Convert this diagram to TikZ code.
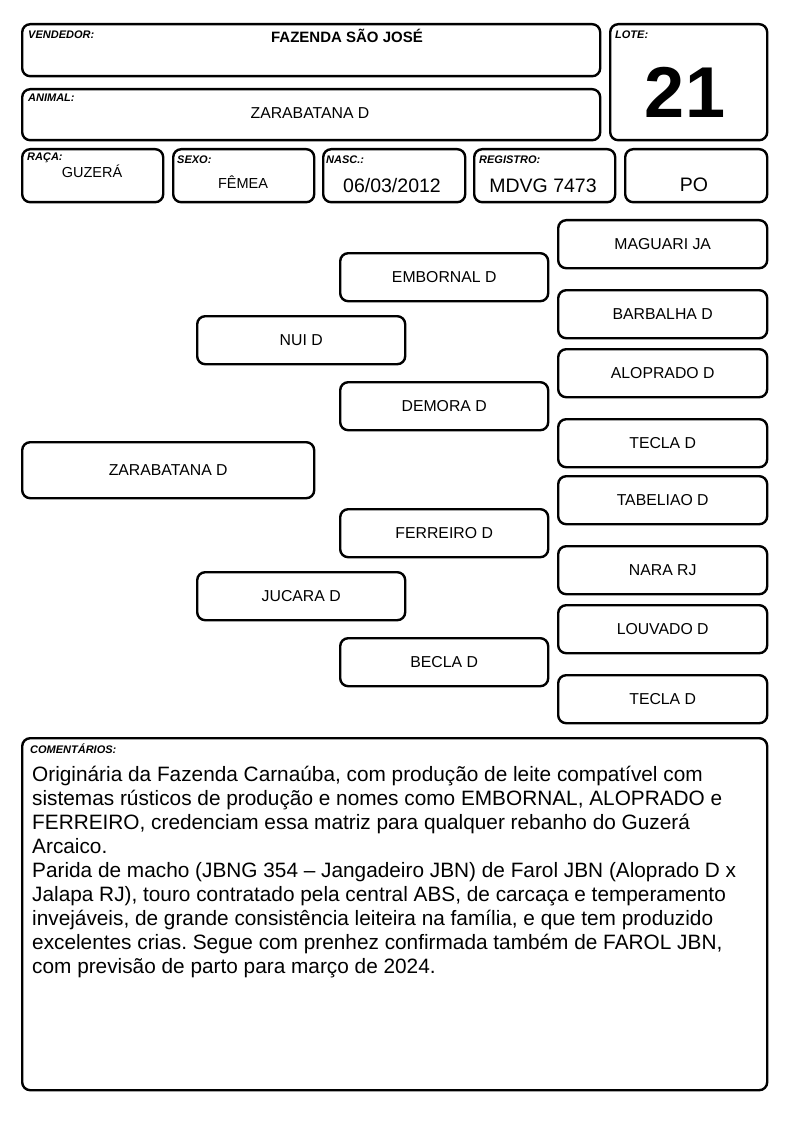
\documentclass[tikz,border=0pt]{standalone}
\usepackage{fontspec}
\setmainfont{Liberation Sans}
\frenchspacing
\begin{document}
\begin{tikzpicture}[x=1pt,y=-1pt,
  box/.style={draw, line width=2.4pt, rounded corners=8pt, inner sep=0pt, anchor=north west},
  lbl/.style={inner sep=0pt, anchor=base west, font=\fontsize{11}{12}\selectfont\bfseries\itshape},
  val/.style={inner sep=0pt, anchor=base},
  ped/.style={box, minimum width=208pt, minimum height=48pt, font=\fontsize{15.8}{18}\selectfont},
  body/.style={inner sep=0pt, anchor=base west, font=\fontsize{20.8}{24}\selectfont}]
\useasboundingbox (0,0) rectangle (794,1123);
% header boxes
\node[box, minimum width=578pt, minimum height=52pt] (vend) at (21,23) {};
\node[box, minimum width=578pt, minimum height=51pt] (anim) at (21,88) {};
\node[box, minimum width=157pt, minimum height=116pt] (lote) at (609,23) {};
\node[box, minimum width=141pt, minimum height=53pt] (raca) at (21,148) {};
\node[box, minimum width=141pt, minimum height=53pt] (sexo) at (172,148) {};
\node[box, minimum width=142pt, minimum height=53pt] (nasc) at (322,148) {};
\node[box, minimum width=141pt, minimum height=53pt] (reg) at (473,148) {};
\node[box, minimum width=142pt, minimum height=53pt] (po) at (624,148) {};
% labels
\node[lbl] (lvend) at (28,38.7) {VENDEDOR:};
\node[lbl] (lanim) at (28,102) {ANIMAL:};
\node[lbl] (llote) at (615,38.7) {LOTE:};
\node[lbl] (lraca) at (27,160.7) {RAÇA:};
\node[lbl] (lsexo) at (177,163.7) {SEXO:};
\node[lbl] (lnasc) at (326,163.7) {NASC.:};
\node[lbl] (lreg) at (479,163.7) {REGISTRO:};
% values
\node[val, font=\fontsize{15}{18}\selectfont\bfseries] (tvend) at (347,43) {FAZENDA SÃO JOSÉ};
\node[val, font=\fontsize{15.8}{18}\selectfont] (tanim) at (310,119) {ZARABATANA D};
\node[val, font=\fontsize{72}{80}\selectfont\bfseries] (tlote) at (685,118) {21};
\node[val, font=\fontsize{14.5}{17}\selectfont] (traca) at (92,178) {GUZERÁ};
\node[val, font=\fontsize{14.5}{17}\selectfont] (tsexo) at (243,189) {FÊMEA};
\node[val, font=\fontsize{19.5}{22}\selectfont] (tnasc) at (392,193) {06/03/2012};
\node[val, font=\fontsize{19.5}{22}\selectfont] (treg) at (543,193) {MDVG 7473};
\node[val, font=\fontsize{19.5}{22}\selectfont] (tpo) at (694,192) {PO};
% pedigree
\node[ped, minimum width=292pt, minimum height=56pt] (p1) at (21,441) {ZARABATANA D};
\node[ped] (p2a) at (196,315) {NUI D};
\node[ped] (p2b) at (196,571) {JUCARA D};
\node[ped] (p3a) at (339,252) {EMBORNAL D};
\node[ped] (p3b) at (339,381) {DEMORA D};
\node[ped] (p3c) at (339,508) {FERREIRO D};
\node[ped] (p3d) at (339,637) {BECLA D};
\node[ped, minimum width=209pt] (p4a) at (557,219) {MAGUARI JA};
\node[ped, minimum width=209pt] (p4b) at (557,289) {BARBALHA D};
\node[ped, minimum width=209pt] (p4c) at (557,348) {ALOPRADO D};
\node[ped, minimum width=209pt] (p4d) at (557,418) {TECLA D};
\node[ped, minimum width=209pt] (p4e) at (557,475) {TABELIAO D};
\node[ped, minimum width=209pt] (p4f) at (557,545) {NARA RJ};
\node[ped, minimum width=209pt] (p4g) at (557,604) {LOUVADO D};
\node[ped, minimum width=209pt] (p4h) at (557,674) {TECLA D};
% comments
\node[box, minimum width=745pt, minimum height=352pt] (com) at (21,737) {};
\node[lbl] (lcom) at (30,753) {COMENTÁRIOS:};
\node[body] (b1) at (32,781.5) {Originária da Fazenda Carnaúba, com produção de leite compatível com};
\node[body] (b2) at (32,805.5) {sistemas rústicos de produção e nomes como EMBORNAL, ALOPRADO e};
\node[body] (b3) at (32,829.5) {FERREIRO, credenciam essa matriz para qualquer rebanho do Guzerá};
\node[body] (b4) at (32,853.5) {Arcaico.};
\node[body] (b5) at (32,877.5) {Parida de macho (JBNG 354 – Jangadeiro JBN) de Farol JBN (Aloprado D x};
\node[body] (b6) at (32,901.5) {Jalapa RJ), touro contratado pela central ABS, de carcaça e temperamento};
\node[body] (b7) at (32,925.5) {invejáveis, de grande consistência leiteira na família, e que tem produzido};
\node[body] (b8) at (32,949.5) {excelentes crias. Segue com prenhez confirmada também de FAROL JBN,};
\node[body] (b9) at (32,973.5) {com previsão de parto para março de 2024.};
\end{tikzpicture}
\end{document}
